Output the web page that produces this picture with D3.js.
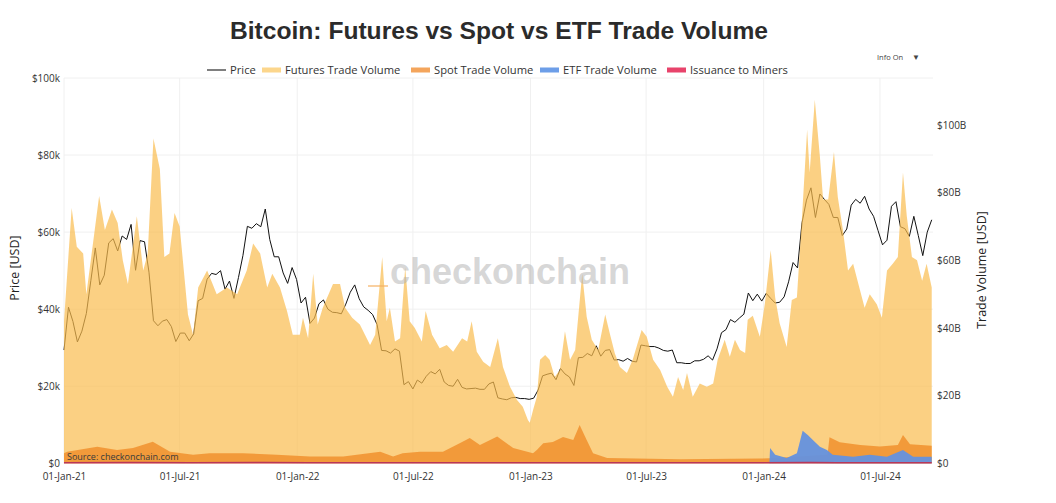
<!DOCTYPE html>
<html><head><meta charset="utf-8">
<script src="https://cdn.jsdelivr.net/npm/d3@7"></script>
<style>
html,body{margin:0;padding:0;background:#fff;}
svg{display:block;}
text{font-family:"Open Sans",sans-serif;}
</style></head>
<body>
<svg id="c" width="1056" height="503"></svg>
<script>
// ---------- DATA ----------
const priceStart = "2021-01-01";   // weekly closes, step 7 days
const priceK = [
29.4,40.5,36.8,31.5,34.3,38.9,47.4,55.9,46.3,48.8,57.2,58.3,55.1,59.0,58.1,62.0,50.1,57.8,57.5,49.6,
37.0,35.7,36.9,37.3,35.5,31.6,33.8,33.8,31.8,33.6,42.2,42.8,47.8,49.3,49.0,50.0,45.2,47.3,42.8,48.2,
53.9,61.5,61.0,62.2,61.4,66.0,58.1,53.6,53.6,49.4,46.7,50.8,47.7,
41.6,43.1,36.3,37.7,41.4,42.4,40.0,39.2,39.1,38.8,41.3,44.4,46.3,42.7,40.6,39.7,38.6,36.0,29.3,29.2,
28.6,29.7,29.1,20.4,21.2,19.3,21.6,20.8,22.6,23.8,23.2,24.4,21.1,20.2,20.0,21.8,19.7,19.3,19.4,19.5,
19.2,19.2,20.6,21.1,17.0,16.7,16.5,17.0,17.1,16.8,16.8,16.6,
16.9,19.0,22.7,23.1,23.4,21.7,24.6,23.2,22.4,20.2,27.4,27.5,28.5,27.9,30.5,27.8,29.3,29.5,26.8,26.9,
26.5,27.2,26.5,26.3,30.7,30.5,30.3,30.3,29.9,29.3,29.1,29.4,26.1,26.1,25.9,25.9,26.6,26.6,27.0,27.9,
26.8,29.7,33.9,34.7,37.3,36.6,37.7,38.7,44.2,42.2,43.9,42.1,
44.1,42.8,41.6,41.8,43.2,47.1,52.1,50.7,62.4,68.3,71.5,63.8,69.9,68.5,67.2,63.8,63.8,59.1,60.8,67.0,
68.5,67.5,69.3,66.0,64.1,60.4,56.7,57.9,66.7,67.9,61.4,60.9,58.9,64.1,59.1,53.9,60.0,63.2];

const futuresDates = ["2021-01-01","2021-01-13","2021-01-21","2021-01-31","2021-02-05","2021-02-25","2021-03-06","2021-03-17","2021-03-26","2021-04-03",
"2021-04-11","2021-04-25","2021-05-05","2021-05-12","2021-05-21","2021-05-31","2021-06-07","2021-06-15","2021-06-23","2021-07-01",
"2021-07-14","2021-07-22","2021-07-30","2021-08-13","2021-08-28","2021-09-13","2021-09-29","2021-10-14","2021-10-24","2021-11-04",
"2021-11-15","2021-11-23","2021-12-05","2021-12-16","2021-12-25","2022-01-05","2022-01-10","2022-01-18","2022-01-26","2022-02-02",
"2022-02-10","2022-02-26","2022-03-09","2022-03-17","2022-03-28","2022-04-09","2022-04-25","2022-05-03","2022-05-14","2022-05-21",
"2022-05-26","2022-06-03","2022-06-11","2022-06-19","2022-06-26","2022-07-04","2022-07-15","2022-07-21","2022-07-31","2022-08-12",
"2022-08-23","2022-09-02","2022-09-16","2022-09-24","2022-10-01","2022-10-09","2022-10-19","2022-10-30","2022-11-11","2022-11-19",
"2022-11-30","2022-12-11","2022-12-20","2022-12-28","2022-12-31","2023-01-05","2023-01-11","2023-01-16","2023-01-24","2023-01-31",
"2023-02-08","2023-02-16","2023-02-24","2023-03-04","2023-03-12","2023-03-23","2023-03-30","2023-04-07","2023-04-17","2023-04-28",
"2023-05-05","2023-05-13","2023-05-21","2023-06-01","2023-06-10","2023-06-24","2023-07-02","2023-07-12","2023-07-23","2023-08-03",
"2023-08-12","2023-08-20","2023-08-28","2023-09-03","2023-09-12","2023-09-23","2023-10-04","2023-10-14","2023-10-21","2023-11-01",
"2023-11-09","2023-11-17","2023-11-25","2023-12-03","2023-12-07","2023-12-15","2023-12-26","2024-01-03","2024-01-12","2024-01-19",
"2024-01-26","2024-02-06","2024-02-14","2024-02-22","2024-03-01","2024-03-09","2024-03-13","2024-03-21","2024-03-29","2024-04-03",
"2024-04-11","2024-04-20","2024-04-26","2024-05-04","2024-05-12","2024-05-20","2024-05-31","2024-06-07","2024-06-15","2024-06-26",
"2024-07-04","2024-07-12","2024-07-21","2024-07-29","2024-08-06","2024-08-12","2024-08-20","2024-08-28","2024-09-05","2024-09-12",
"2024-09-20"];
const futuresB = [42,75.5,64,62,50,79,69,75,71,60,
53,73,57,62,96,87,61,62,74,70,
44,38,52,57,50,52,50,57,65,62,
52,56,52,45,38,38,43,37,56,41,
46,53,53,46,43,41,35,38,61,42,
46,36,37,58,42,40,36,45,38,34,
35,33,37,36,42,33,30,28.5,37,28.5,
22.6,18.7,16.7,12.8,12,15.7,19.7,30.6,32,30.6,
25.5,27.6,39,30.6,33.5,56,43.3,36.5,33.5,44,
38.5,32.5,28.5,26.7,30.6,39.4,37.4,30.6,27.6,22.6,
19.7,25.5,21.7,26.7,19.7,23.6,22.6,23.6,30.6,36.5,
31.5,36.5,33.5,32.6,42.4,43.6,37.4,47.4,63,49,
41.4,34.4,48.3,49,72.8,98.6,86,107.5,90.6,78,
78,92,78.7,69,57,59,51,46,50,47,
43,57,59,61,86,73,61,60,54,59,
52];

const spotDates = ["2021-01-01","2021-01-06","2021-02-22","2021-03-25","2021-04-19","2021-05-20","2021-06-16","2021-07-22","2021-08-17","2021-10-08",
"2021-11-30","2022-01-21","2022-03-14","2022-05-11","2022-05-31","2022-06-15","2022-07-12","2022-08-17","2022-09-13","2022-09-28",
"2022-10-14","2022-11-10","2022-12-05","2023-01-05","2023-01-11","2023-01-21","2023-02-05","2023-02-21","2023-03-09","2023-03-19",
"2023-03-30","2023-04-09","2023-05-01","2023-08-23","2023-12-26","2024-01-11","2024-02-27","2024-04-10","2024-04-13","2024-04-29",
"2024-05-31","2024-07-01","2024-07-29","2024-08-06","2024-08-17","2024-09-20"];
const spotB = [3.0,3.4,4.9,3.9,4.5,6.4,3.4,2.5,3.0,3.0,
2.5,2.0,2.0,3.4,2.0,3.0,3.4,3.4,6.0,7.5,
5.4,7.9,4.5,3.0,3.9,5.9,6.3,7.8,6.9,11.3,
6.9,3.0,1.6,1.2,1.4,1.5,2.0,2.5,7.7,6.2,
5.4,5.0,5.4,8.4,5.6,5.2];

const etfDates = ["2024-01-10","2024-01-11","2024-01-19","2024-02-06","2024-02-22","2024-03-02","2024-03-10","2024-03-18","2024-03-29","2024-04-09",
"2024-04-18","2024-05-20","2024-06-15","2024-07-12","2024-08-06","2024-08-22","2024-09-20"];
const etfB = [0,4.5,2.5,1.6,3.0,9.6,8.4,6.9,4.9,3.9,2.5,1.9,2.5,1.9,3.9,1.9,1.9];

const issuanceDates = ["2021-01-01","2021-04-15","2021-07-20","2021-11-10","2022-01-20","2022-06-20","2022-12-20","2023-06-20","2023-12-20","2024-03-15","2024-04-25","2024-09-20"];
const issuanceB = [0.03,0.058,0.03,0.06,0.04,0.02,0.015,0.025,0.04,0.066,0.03,0.028];

const priceTicks = [0,20000,40000,60000,80000,100000];
const volTicks = [0,20,40,60,80,100];
const dateTicks = ["2021-01-01","2021-07-01","2022-01-01","2022-07-01","2023-01-01","2023-07-01","2024-01-01","2024-07-01"];

const legendItems = [
  {name:"Price", kind:"line", color:"#555"},
  {name:"Futures Trade Volume", kind:"bar", color:"#fcd68c"},
  {name:"Spot Trade Volume", kind:"bar", color:"#f4a55c"},
  {name:"ETF Trade Volume", kind:"bar", color:"#6d9ee8"},
  {name:"Issuance to Miners", kind:"bar", color:"#e8436b"}
];

// ---------- DRAW ----------
const svg = d3.select("#c");
const pd = d3.utcParse("%Y-%m-%d");
const L = 64, R = 933, T = 78, B = 463.3;

const x = d3.scaleUtc().domain([pd("2021-01-01"), pd("2024-09-22")]).range([L, R]);
const yL = d3.scaleLinear().domain([0, 100000]).range([B, T]);
const yR = d3.scaleLinear().domain([0, 113.9]).range([B, T]);

const start = pd(priceStart);
const price = priceK.map((v,i)=>({date:d3.utcDay.offset(start, 7*i), v:v*1000}));
const zip = (ds, vs) => ds.map((d,i)=>({date:pd(d), v:vs[i]}));
const fut = zip(futuresDates, futuresB);
const spot = zip(spotDates, spotB);
const etf = zip(etfDates, etfB);
const iss = zip(issuanceDates, issuanceB);

// grid
const grid = svg.append("g");
grid.selectAll("line.v").data(dateTicks.map(pd)).join("line")
  .attr("x1", d=>x(d)).attr("x2", d=>x(d)).attr("y1", T).attr("y2", B)
  .attr("stroke", "#f0f0f0").attr("stroke-width", 1);
grid.selectAll("line.h").data(priceTicks.slice(1)).join("line")
  .attr("x1", L).attr("x2", R).attr("y1", d=>yL(d)).attr("y2", d=>yL(d))
  .attr("stroke", "#f0f0f0").attr("stroke-width", 1);

// price line (beneath semi-transparent volume areas)
svg.append("path").datum(price)
  .attr("fill","none").attr("stroke","#111").attr("stroke-width",1)
  .attr("d", d3.line().x(d=>x(d.date)).y(d=>yL(d.v)));

const area = d3.area().x(d=>x(d.date)).y0(yR(0)).y1(d=>yR(d.v));
svg.append("path").datum(fut).attr("fill","rgb(250,188,78)").attr("fill-opacity",0.7).attr("d", area);
svg.append("path").datum(spot).attr("fill","rgb(240,140,40)").attr("fill-opacity",0.8).attr("d", area);
svg.append("path").datum(etf).attr("fill","rgb(100,145,222)").attr("fill-opacity",0.95).attr("d", area);
svg.append("path").datum(iss).attr("fill","#e8436b").attr("d", area);
svg.append("path").datum(iss).attr("fill","none").attr("stroke","#b8375a").attr("stroke-width",1.5)
  .attr("d", d3.line().x(d=>x(d.date)).y(d=>yR(d.v)-0.5));

// watermark
svg.append("line").attr("x1",368).attr("x2",388).attr("y1",286).attr("y2",286)
  .attr("stroke","#f5b063").attr("stroke-opacity",0.6).attr("stroke-width",2);
svg.append("text").attr("x",390).attr("y",284).text("checkonchain")
  .style("font-family","'Liberation Sans',Arial,sans-serif").style("font-weight","bold")
  .style("font-size","36px").attr("fill","#b0b0b0").attr("fill-opacity",0.5);

// axes
const axL = svg.append("g").attr("transform",`translate(${L},0)`)
  .call(d3.axisLeft(yL).tickValues(priceTicks).tickSize(0).tickPadding(4)
    .tickFormat(d=> d===0 ? "$0" : "$"+(d/1000)+"k"));
const axR = svg.append("g").attr("transform",`translate(${R},0)`)
  .call(d3.axisRight(yR).tickValues(volTicks).tickSize(0).tickPadding(4)
    .tickFormat(d=> d===0 ? "$0" : "$"+d+"B"));
const axB = svg.append("g").attr("transform",`translate(0,${B})`)
  .call(d3.axisBottom(x).tickValues(dateTicks.map(pd)).tickSize(0).tickPadding(10)
    .tickFormat(d3.utcFormat("%d-%b-%y")));
[axL,axR,axB].forEach(a=>{
  a.select(".domain").remove();
  a.selectAll("text").style("font-family","'Open Sans',sans-serif").style("font-size","10px").attr("fill","#333");
});

// axis titles
svg.append("text").attr("transform","translate(19,268) rotate(-90)").attr("text-anchor","middle")
  .style("font-size","12.5px").attr("fill","#222").text("Price [USD]");
svg.append("text").attr("transform","translate(986,270) rotate(-90)").attr("text-anchor","middle")
  .style("font-size","12.5px").attr("fill","#222").text("Trade Volume [USD]");

// title
svg.append("text").attr("x",499).attr("y",39).attr("text-anchor","middle")
  .style("font-family","'Liberation Sans',Arial,sans-serif").style("font-weight","bold")
  .style("font-size","24.6px").attr("fill","#2b2b2b")
  .text("Bitcoin: Futures vs Spot vs ETF Trade Volume");

// legend
const legX = [207, 262, 411, 540, 667];
const lg = svg.append("g");
legendItems.forEach((it,i)=>{
  const g = lg.append("g").attr("transform",`translate(${legX[i]},70)`);
  if (it.kind==="line") g.append("line").attr("x1",0).attr("x2",19).attr("stroke",it.color).attr("stroke-width",1.5);
  else g.append("rect").attr("x",0).attr("y",-2.5).attr("width",19).attr("height",5).attr("fill",it.color);
  g.append("text").attr("x",23).attr("y",4).style("font-size","11.2px").attr("fill","#333").text(it.name);
});

// info toggle
svg.append("text").attr("x",877).attr("y",60).style("font-size","7.5px").attr("fill","#444").text("Info On");
svg.append("text").attr("x",912).attr("y",60).style("font-size","8px").attr("fill","#444").text("▼");

// source
svg.append("text").attr("x",67).attr("y",460).style("font-size","9px").attr("fill","#3a3a3a").text("Source: checkonchain.com");
</script>
</body></html>
